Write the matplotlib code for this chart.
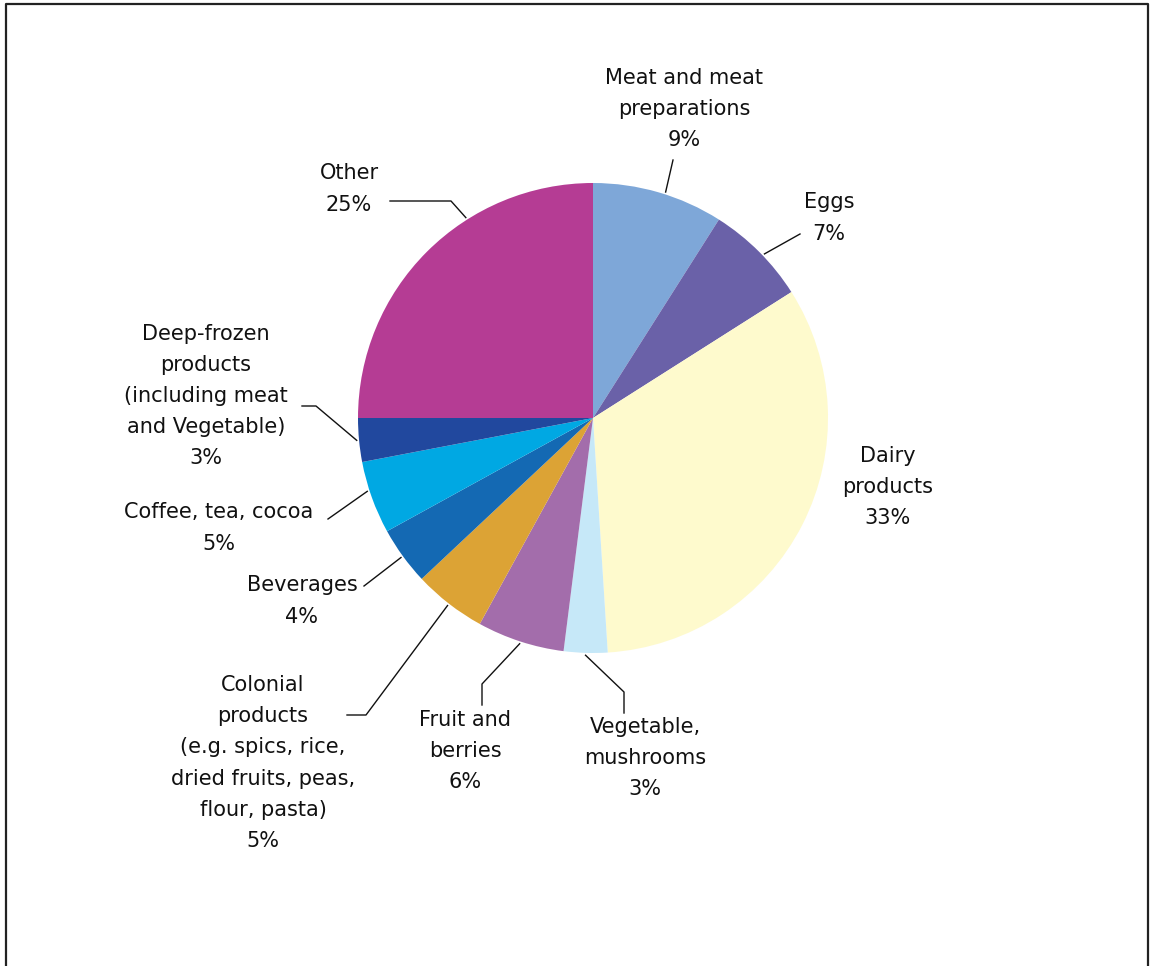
import numpy as np
import matplotlib.pyplot as plt

# food import shares, clockwise from 12 o'clock
categories = ["Meat and meat\npreparations", "Eggs", "Dairy\nproducts",
              "Vegetable,\nmushrooms", "Fruit and\nberries",
              "Colonial\nproducts\n(e.g. spics, rice,\ndried fruits, peas,\nflour, pasta)",
              "Beverages", "Coffee, tea, cocoa",
              "Deep-frozen\nproducts\n(including meat\nand Vegetable)", "Other"]
shares = [9, 7, 33, 3, 6, 5, 4, 5, 3, 25]
colors = ["#7ea7d8", "#6a61a8", "#fefacd", "#c6e8f8", "#a36dab",
          "#dca335", "#1469b3", "#00a8e3", "#21489e", "#b53c94"]

W, H = 1154, 966
cx, cy, R = 593, 418, 235

# label block centres (pixel coords, y down)
text_pos = [(684, 109), (829, 218), (888, 487), (645, 758), (465, 751),
            (263, 763), (302, 601), (219, 528), (206, 396), (349, 189)]
# leader line bends, ending next to the label; empty = no leader
bends = [[(673, 160)],
         [(800, 234)],
         [],
         [(624, 692), (624, 713)],
         [(482, 684), (482, 705)],
         [(366, 715), (347, 715)],
         [(364, 586)],
         [(328, 519)],
         [(316, 406), (302, 406)],
         [(451, 201), (390, 201)]]
# where along the wedge the leader touches (0..1)
anchor = [0.55, 0.55, 0.5, 0.5, 0.5, 0.5, 0.5, 0.6, 0.5, 0.64]

plt.rcParams['font.family'] = ['DejaVu Sans']

fig = plt.figure(figsize=(W / 100, H / 100), dpi=100)
ax = fig.add_axes([0, 0, 1, 1])


def py(y):
    return H - y


ax.pie(shares, colors=colors, startangle=90, counterclock=False,
       center=(cx, py(cy)), radius=R, wedgeprops=dict(linewidth=0))
ax.set_xlim(0, W)
ax.set_ylim(0, H)
ax.set_aspect('equal')
ax.axis('off')

total = sum(shares)
cum = 0
for i, v in enumerate(shares):
    ang = np.deg2rad(90 - 360 * (cum + anchor[i] * v) / total)
    cum += v
    if bends[i]:
        x0 = cx + R * 1.01 * np.cos(ang)
        y0 = py(cy) + R * 1.01 * np.sin(ang)
        xs = [x0] + [p[0] for p in bends[i]]
        ys = [y0] + [py(p[1]) for p in bends[i]]
        ax.plot(xs, ys, color="#111111", lw=1.0)
    tx, ty = text_pos[i]
    ax.text(tx, py(ty), f"{categories[i]}\n{v}%", ha="center", va="center",
            fontsize=15, color="#111111", linespacing=1.7)

# open frame: left, top, right
ax.plot([6, 6, 1148, 1148], [0, py(4), py(4), 0], color="#222222", lw=1.6,
        clip_on=False)

fig.savefig("out.png", dpi=100)
